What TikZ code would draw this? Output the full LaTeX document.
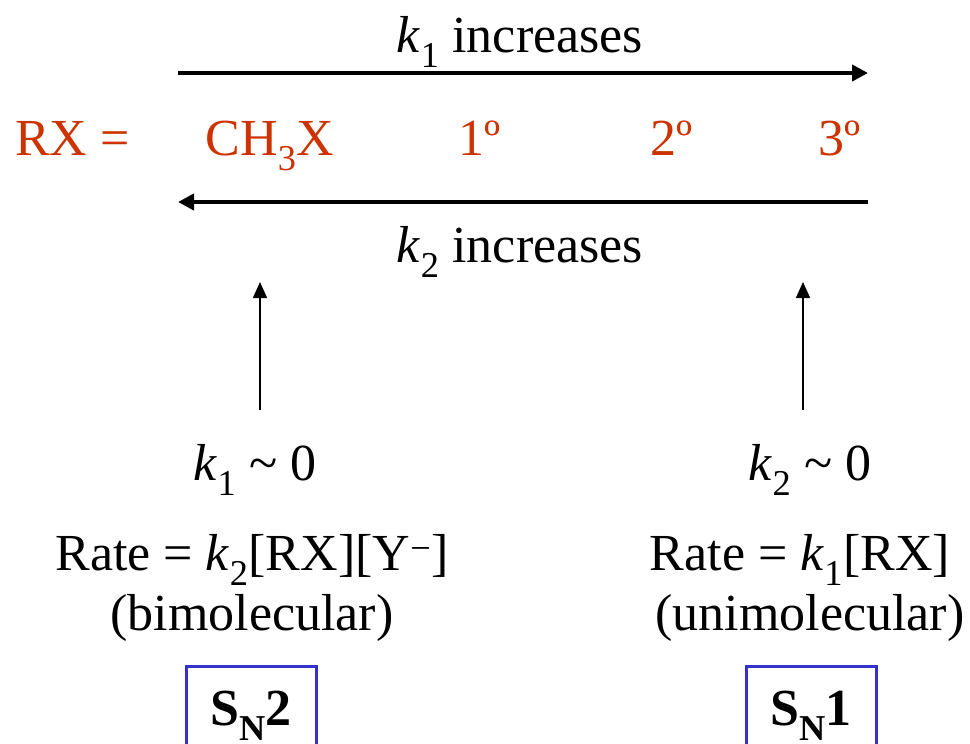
\documentclass[tikz,border=0pt]{standalone}
\usepackage{fontspec}
\setmainfont{Liberation Serif}
\usetikzlibrary{arrows.meta, positioning}
\definecolor{rxred}{HTML}{CC3300}
\definecolor{snblue}{HTML}{3333CC}

\begin{document}
\begin{tikzpicture}[x=1pt, y=-1pt]
		\useasboundingbox (0,0) rectangle (970,744);
		% Styles
		\tikzstyle{txt}=[inner sep=0pt, anchor=base, font=\fontsize{52}{58}\selectfont]
		\tikzstyle{rx}=[txt, text=rxred]
		\tikzstyle{bigarrow}=[line width=4pt, -{Triangle[length=16pt, width=16pt]}]
		\tikzstyle{smallarrow}=[line width=1.6pt, -{Triangle[length=16pt, width=14pt]}]
		\tikzstyle{snbox}=[txt, draw=snblue, line width=3pt, minimum width=130pt, text height=59pt, text depth=40pt, font=\fontsize{52}{58}\selectfont\bfseries]
		
		%--- Labels des fleches horizontales ---
		\node[txt] (k1inc) at (520,52) {\textit{k}\textsubscript{1} increases};
		\node[txt] (k2inc) at (520,262) {\textit{k}\textsubscript{2} increases};
		
		%--- Ligne RX ---
		\node[rx, anchor=base west] (rxeq) at (15,155) {RX =};
		\node[rx] (ch3x) at (270,155) {CH\textsubscript{3}X};
		\node[rx] (prim) at (480,155) {1º};
		\node[rx] (sec) at (672,155) {2º};
		\node[rx] (tert) at (840,155) {3º};
		
		%--- Extremites des fleches ---
		\coordinate (topL) at (178,73);
		\coordinate (topR) at (868,73);
		\coordinate (botL) at (178,202);
		\coordinate (botR) at (868,202);
		\draw[bigarrow] (topL) -- (topR);
		\draw[bigarrow] (botR) -- (botL);
		
		%--- Cote SN2 (gauche) ---
		\coordinate (upL) at (260,282);
		\coordinate (lowL) at (260,410);
		\draw[smallarrow] (lowL) -- (upL);
		\node[txt] (k1zero) at (255,480) {\textit{k}\textsubscript{1} \textasciitilde{} 0};
		\node[txt] (rateL) at (252,570) {Rate = \textit{k}\textsubscript{2}[RX][Y\textsuperscript{−}]};
		\node[txt] (bimol) at (252,630) {(bimolecular)};
		\node[snbox] (sn2) at (251,725) {S\textsubscript{N}2};
		
		%--- Cote SN1 (droite) ---
		\coordinate (upR) at (803,282);
		\coordinate (lowR) at (803,410);
		\draw[smallarrow] (lowR) -- (upR);
		\node[txt] (k2zero) at (810,480) {\textit{k}\textsubscript{2} \textasciitilde{} 0};
		\node[txt] (rateR) at (800,570) {Rate = \textit{k}\textsubscript{1}[RX]};
		\node[txt] (unimol) at (810,630) {(unimolecular)};
		\node[snbox] (sn1) at (811,725) {S\textsubscript{N}1};
	\end{tikzpicture}
\end{document}
